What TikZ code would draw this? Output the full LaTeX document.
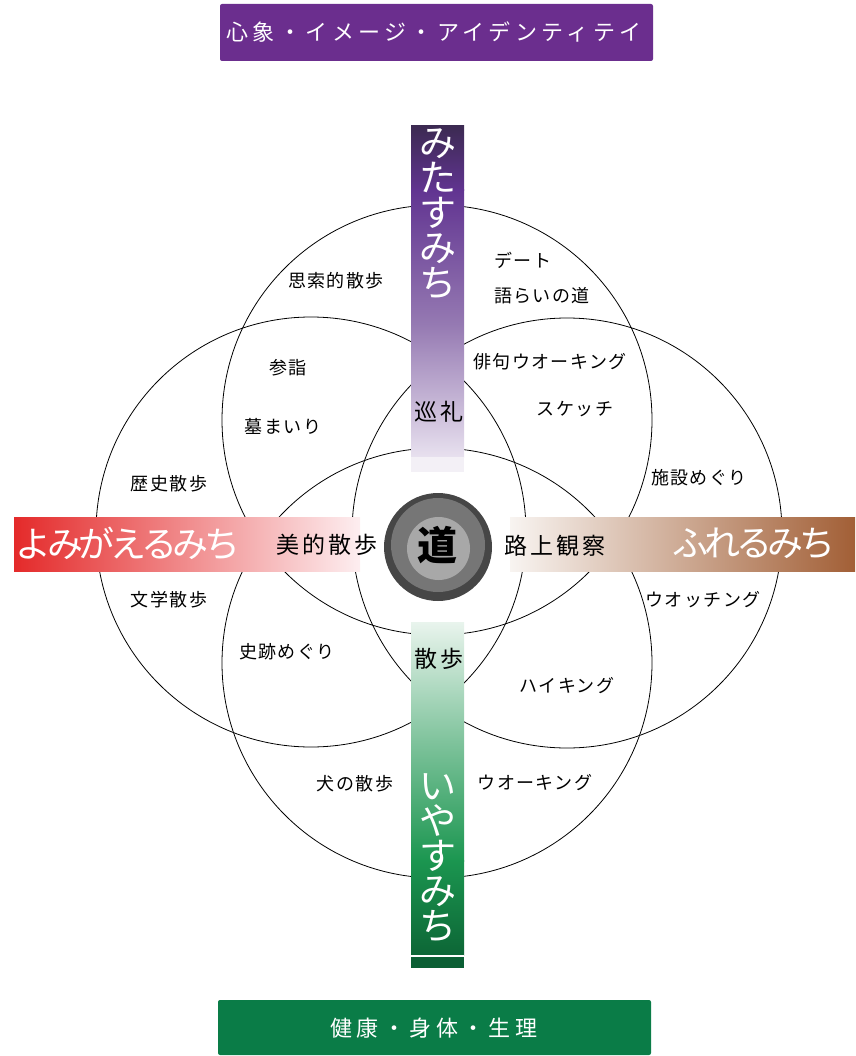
\documentclass[tikz,border=0pt]{standalone}
\usepackage{fontspec}
\setmainfont{Noto Sans CJK JP}
\definecolor{mpA}{HTML}{3C2A52}
\definecolor{mpB}{HTML}{613491}
\definecolor{mpC}{HTML}{9579B2}
\definecolor{mpD}{HTML}{E8E1EF}
\definecolor{mpE}{HTML}{F3F0F6}
\definecolor{gA}{HTML}{E9F4ED}
\definecolor{gB}{HTML}{7FC39C}
\definecolor{gC}{HTML}{1B9650}
\definecolor{gD}{HTML}{0D6636}
\definecolor{gE}{HTML}{0B5F34}
\definecolor{rA}{HTML}{E42A2A}
\definecolor{rB}{HTML}{FDEEF0}
\definecolor{bA}{HTML}{F8F4F1}
\definecolor{bB}{HTML}{A25F36}
\definecolor{ballA}{HTML}{464646}
\definecolor{ballB}{HTML}{767676}
\definecolor{ballC}{HTML}{A8A8A8}
\definecolor{banP}{HTML}{6B2E8E}
\definecolor{banG}{HTML}{0A7C47}
\begin{document}
\begin{tikzpicture}[x=1pt,y=-1pt,
  circ/.style={circle,draw=black,line width=0.8pt,minimum size=430pt,inner sep=0pt,outer sep=0pt},
  lbl/.style={inner sep=0pt,font=\fontsize{18}{21}\selectfont\addfontfeature{LetterSpace=8}},
  biglbl/.style={inner sep=0pt,font=\fontsize{23}{26}\selectfont\addfontfeature{LetterSpace=12}},
  barword/.style={inner sep=0pt,text=white,font=\fontsize{36}{40}\selectfont\addfontfeature{LetterSpace=-12}},
  vword/.style={inner sep=0pt,text=white,align=center,font=\fontsize{37}{35}\selectfont},
  bannerbox/.style={rounded corners=2pt,inner sep=0pt,minimum width=433pt,text=white},
  bannertext/.style={font=\fontsize{22}{24}\selectfont\addfontfeature{LetterSpace=20}}]
\path[use as bounding box] (0,0) rectangle (855,1056);
% circles
\node[circ] (ctop) at (437,420) {};
\node[circ] (cbot) at (437,663) {};
\node[circ] (cleft) at (311,532) {};
\node[circ] (cright) at (567,533) {};
% top bar
\shade[top color=mpA, bottom color=mpB] (411,126) rectangle (464,191);
\shade[top color=mpB, bottom color=mpD, middle color=mpC] (411,190) rectangle (464,457.5);
\fill[mpE] (411,457) rectangle (464,472);
% bottom bar
\shade[top color=gA, bottom color=gC, middle color=gB] (411,622) rectangle (464,861);
\shade[top color=gC, bottom color=gD] (411,860) rectangle (464,955);
\fill[white] (411,955) rectangle (464,957);
\fill[gE] (411,957) rectangle (464,968);
% left and right bars
\shade[left color=rA, right color=rB] (14,517) rectangle (360,571);
\shade[left color=bA, right color=bB] (510,517) rectangle (855,571);
% ball
\fill[ballA] (438,547) circle[radius=54];
\fill[ballB] (438,545) circle[radius=47];
\fill[ballC] (438.5,548.5) circle[radius=31.5];
\node[inner sep=0pt,font=\fontsize{40}{44}\selectfont\bfseries] (michi) at (437,545) {道};
% bar words
\node[vword] (mitasu) at (437.5,214) {み\\た\\す\\み\\ち};
\node[vword] (iyasu) at (437.5,858) {い\\や\\す\\み\\ち};
\node[barword] (yomigaeru) at (128,543) {よみがえるみち};
\node[barword] (fureru) at (754,543) {ふれるみち};
\node[biglbl] (junrei) at (439,412) {巡礼};
\node[biglbl] (sanpo) at (439,659) {散歩};
\node[biglbl] (biteki) at (327,545) {美的散歩};
\node[biglbl] (rojo) at (555,546) {路上観察};
% labels
\node[lbl] (l1) at (336,281) {思索的散歩};
\node[lbl] (l2) at (523,260) {デート};
\node[lbl] (l3) at (542,296) {語らいの道};
\node[lbl] (l4) at (288,368) {参詣};
\node[lbl] (l5) at (283,426) {墓まいり};
\node[lbl] (l6) at (169,484) {歴史散歩};
\node[lbl] (l7) at (550,362) {俳句ウオーキング};
\node[lbl] (l8) at (575,409) {スケッチ};
\node[lbl] (l9) at (699,478) {施設めぐり};
\node[lbl] (l10) at (169,600) {文学散歩};
\node[lbl] (l11) at (287,652) {史跡めぐり};
\node[lbl] (l12) at (355,784) {犬の散歩};
\node[lbl] (l13) at (703,600) {ウオッチング};
\node[lbl] (l14) at (567,686) {ハイキング};
\node[lbl] (l15) at (535,783) {ウオーキング};
% banners
\node[bannerbox,fill=banP,minimum height=57pt] (topbanner) at (436.5,32.5) {};
\node[bannertext,text=white,inner sep=0pt] (toptext) at (434,32) {心象・イメージ・アイデンティテイ};
\node[bannerbox,fill=banG,minimum height=55pt] (botbanner) at (434.5,1027.5) {};
\node[bannertext,text=white,inner sep=0pt] (bottext) at (434,1028) {健康・身体・生理};
\end{tikzpicture}
\end{document}
